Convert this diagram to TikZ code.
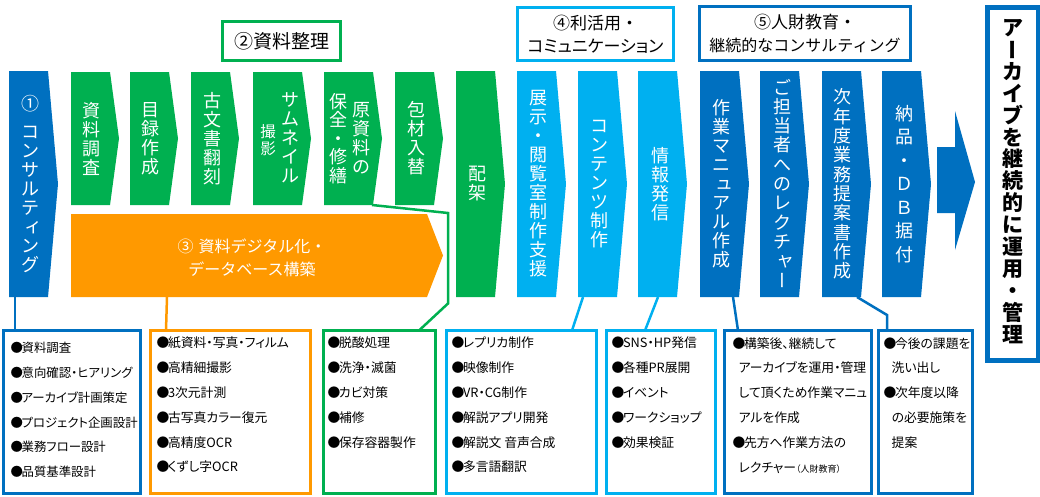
\documentclass[tikz,border=0pt]{standalone}
\usepackage{fontspec}
\newfontfamily\jp[RawFeature=+palt]{Noto Sans CJK JP}
\newfontfamily\jpn{Noto Sans CJK JP}
\usetikzlibrary{calc,positioning,shapes.symbols}
\definecolor{ArcBlue}{HTML}{0070C0}
\definecolor{ArcGreen}{HTML}{00B050}
\definecolor{ArcSky}{HTML}{00B0F0}
\definecolor{ArcOrange}{HTML}{FF9900}
% vertical long vowel, small kana and bullet
\newcommand\vbar{\rotatebox[origin=c]{-90}{\raisebox{0pt}[0.88em][0.12em]{ー}}}
\newcommand\skana[1]{\raisebox{1.5pt}{\kern3pt#1\kern-3pt}}
\newcommand\bul{●\kern-1.5pt}

\tikzset{
  chev/.style={shape=signal, signal to=east, signal from=nowhere, draw=none,
    inner sep=0pt, outer sep=0pt, anchor=west},
  chevshort/.style={chev, minimum width=48pt, minimum height=133pt, signal pointer angle=164.6},
  chevtall/.style={chev, minimum width=49pt, minimum height=226pt, signal pointer angle=169.9},
  vt/.style={text=white, inner sep=0pt, align=center,
    font=\jpn\fontsize{18}{19}\selectfont},
  titlebox/.style={draw, line width=3pt, fill=white, inner sep=0pt, align=center,
    font=\jpn\fontsize{17}{23}\selectfont},
  itembox/.style={draw, line width=3pt, anchor=north west, inner sep=0pt, outer sep=0pt,
    minimum height=163pt},
  items/.style={anchor=north west, align=left, inner sep=0pt,
    font=\jp\fontsize{12.8}{24.8}\selectfont},
  link/.style={line width=2.5pt}
}

\begin{document}
\begin{tikzpicture}[x=1pt,y=-1pt]
\useasboundingbox (0,0) rectangle (1040,496);

% group titles
\node[titlebox, draw=ArcGreen, minimum width=118pt, minimum height=39pt,
  font=\jpn\fontsize{19}{23}\selectfont] (ttl2) at (281.5,41) {②資料整理};
\node[titlebox, draw=ArcSky, minimum width=156pt, minimum height=53pt] (ttl4) at (595.5,34)
  {④利活用・\\{\jp コミュニケーション}};
\node[titlebox, draw=ArcBlue, minimum width=211pt, minimum height=54pt] (ttl5) at (805,33.5)
  {⑤人財教育・\\{\fontsize{16}{23}\selectfont 継続的なコンサルティング}};

% chevrons
\node[chevtall, fill=ArcBlue] (cons) at (9,184) {};
\node[vt] at ($(cons.west)+(21,0)$) {①\\[9pt]コ\\ン\\サ\\ル\\テ\\\skana{ィ}\\ン\\グ};

\node[chevshort, fill=ArcGreen] (survey) at (71,138.5) {};
\node[vt] at ($(survey.west)+(20,0)$) {資\\料\\調\\査};
\node[chevshort, fill=ArcGreen] (catalog) at (130,138.5) {};
\node[vt] at ($(catalog.west)+(20,0)$) {目\\録\\作\\成};
\node[chevshort, fill=ArcGreen] (transc) at (191,138.5) {};
\node[vt] at ($(transc.west)+(21,0)$) {古\\文\\書\\翻\\刻};
\node[chevshort, fill=ArcGreen, minimum width=58pt] (thumb) at (253,138.5) {};
\node[vt] at ($(thumb.west)+(37,-1)$) {サ\\ム\\ネ\\イ\\ル};
\node[vt, font=\jpn\fontsize{15.5}{17}\selectfont] at ($(thumb.west)+(15,1.5)$) {撮\\影};
\node[chevshort, fill=ArcGreen, minimum width=58pt] (repair) at (324,138.5) {};
\node[vt] at ($(repair.west)+(37,0)$) {原\\資\\料\\の};
\node[vt, font=\jpn\fontsize{18}{18.6}\selectfont] at ($(repair.west)+(14,0)$) {保\\全\\・\\修\\繕};
\node[chevshort, fill=ArcGreen] (rebox) at (395,138.5) {};
\node[vt] at ($(rebox.west)+(21,0)$) {包\\材\\入\\替};
\node[chevtall, fill=ArcGreen] (shelf) at (456,184) {};
\node[vt] at ($(shelf.west)+(21,0)$) {配\\架};

\node[chev, fill=ArcOrange, minimum width=372pt, minimum height=83pt,
  signal pointer angle=137.8] (digi) at (71,255.5) {};
\node[text=white, align=center, inner sep=0pt, font=\jpn\fontsize{16}{23}\selectfont]
  at (252,258) {③\hspace{5pt}資料デジタル化・\\データベース構築};

\node[chevtall, fill=ArcSky] (expo) at (517,184) {};
\node[vt] at ($(expo.west)+(21.5,0)$) {展\\示\\・\\閲\\覧\\室\\制\\作\\支\\援};
\node[chevtall, fill=ArcSky] (content) at (578,184) {};
\node[vt] at ($(content.west)+(21,0)$) {コ\\ン\\テ\\ン\\ツ\\制\\作};
\node[chevtall, fill=ArcSky] (publish) at (638,184) {};
\node[vt] at ($(publish.west)+(22,0)$) {情\\報\\発\\信};

\node[chevtall, fill=ArcBlue] (manual) at (700,184) {};
\node[vt] at ($(manual.west)+(21,0)$) {作\\業\\マ\\ニ\\\skana{ュ}\\ア\\ル\\作\\成};
\node[chevtall, fill=ArcBlue] (lecture) at (760,184) {};
\node[vt, font=\jpn\fontsize{18}{19.3}\selectfont] at ($(lecture.west)+(22,0)$)
  {ご\\担\\当\\者\\へ\\の\\レ\\ク\\チ\\\skana{ャ}\\\vbar};
\node[chevtall, fill=ArcBlue] (plan) at (822,184) {};
\node[vt, font=\jpn\fontsize{18}{19.3}\selectfont] at ($(plan.west)+(20.5,0)$)
  {次\\年\\度\\業\\務\\提\\案\\書\\作\\成};
\node[chevtall, fill=ArcBlue] (deliver) at (882,184) {};
\node[vt, font=\jpn\fontsize{18}{23.5}\selectfont] at ($(deliver.west)+(22,0)$)
  {納\\品\\・\\Ｄ\\Ｂ\\据\\付};

% big arrow and goal
\fill[ArcBlue] (937,147) -- (955,147) -- (955,111) -- (975,182) -- (955,250) -- (955,213)
  -- (937,213) -- cycle;
\node[draw=ArcBlue, line width=5pt, anchor=north west, inner sep=0pt,
  minimum width=51pt, minimum height=353pt] (goal) at (984.5,4.5) {};
\node[vt, text=black, font=\jpn\bfseries\fontsize{21}{21.9}\selectfont] at ([yshift=2pt]goal.center)
  {ア\\\vbar\\カ\\イ\\ブ\\を\\継\\続\\的\\に\\運\\用\\・\\管\\理};

% detail boxes
\node[itembox, draw=ArcBlue, minimum width=137pt] (box1) at (3.5,330.5) {};
\node[itembox, draw=ArcOrange, minimum width=160pt] (box2) at (150.5,330.5) {};
\node[itembox, draw=ArcGreen, minimum width=112pt] (box3) at (323.5,330.5) {};
\node[itembox, draw=ArcSky, minimum width=150pt] (box4) at (446.5,330.5) {};
\node[itembox, draw=ArcSky, minimum width=109pt] (box5) at (606.5,330.5) {};
\node[itembox, draw=ArcBlue, minimum width=147pt] (box6) at (724.5,330.5) {};
\node[itembox, draw=ArcBlue, minimum width=94pt] (box7) at (878.5,330.5) {};

\node[items, font=\jp\fontsize{12.4}{24.8}\selectfont] at ($(box1.north west)+(7,11.5)$)
  {\bul 資料調査\\\bul 意向確認・ヒアリング\\\bul アーカイブ計画策定\\\bul プロジェクト企画設計\\\bul 業務フロー設計\\\bul 品質基準設計};
\node[items] at ($(box2.north west)+(6,6.5)$)
  {\bul 紙資料・写真・フィルム\\\bul 高精細撮影\\\bul 3次元計測\\\bul 古写真カラー復元\\\bul 高精度OCR\\\bul くずし字OCR};
\node[items] at ($(box3.north west)+(4,6.5)$)
  {\bul 脱酸処理\\\bul 洗浄・滅菌\\\bul カビ対策\\\bul 補修\\\bul 保存容器製作};
\node[items] at ($(box4.north west)+(5,6.5)$)
  {\bul レプリカ制作\\\bul 映像制作\\\bul VR・CG制作\\\bul 解説アプリ開発\\\bul 解説文 音声合成\\\bul 多言語翻訳};
\node[items] at ($(box5.north west)+(5,6.5)$)
  {\bul SNS・HP発信\\\bul 各種PR展開\\\bul イベント\\\bul ワークショップ\\\bul 効果検証};
\node[items] at ($(box6.north west)+(8,6.5)$)
  {\bul 構築後、継続して\\\hspace*{6pt}アーカイブを運用・管理\\\hspace*{6pt}して頂くため作業マニュ\\\hspace*{6pt}アルを作成\\\bul 先方へ作業方法の\\\hspace*{6pt}レクチャー{\fontsize{9}{9}\selectfont （人財教育）}};
\node[items] at ($(box7.north west)+(5,6.5)$)
  {\bul 今後の課題を\\\hspace*{8pt}洗い出し\\\bul 次年度以降\\\hspace*{8pt}の必要施策を\\\hspace*{8pt}提案};

% connectors
\draw[link, ArcBlue] ($(cons.west)+(6,113)$) -- ($(box1.north west)+(11.5,0)$);
\draw[link, ArcOrange] ($(digi.west)+(96,41.5)$) -- ($(box2.north west)+(15.5,0)$);
\draw[link, ArcGreen] ($(repair.west)+(48,66.5)$) -- ++(76,8) -- ++(0,90.5)
  -- ($(box3.north west)+(95.5,0)$);
\draw[link, ArcSky] ($(content.west)+(5,113)$) -- ($(box4.north west)+(125.5,0)$);
\draw[link, ArcSky] ($(publish.west)+(20,113)$) -- ($(box5.north west)+(38.5,0)$);
\draw[link, ArcBlue] ($(manual.west)+(33,113)$) -- ($(box6.north west)+(13.5,0)$);
\draw[link, ArcBlue] ($(plan.west)+(35,113)$) -- ++(30,18) -- ($(box7.north west)+(8.5,0)$);
\end{tikzpicture}
\end{document}
